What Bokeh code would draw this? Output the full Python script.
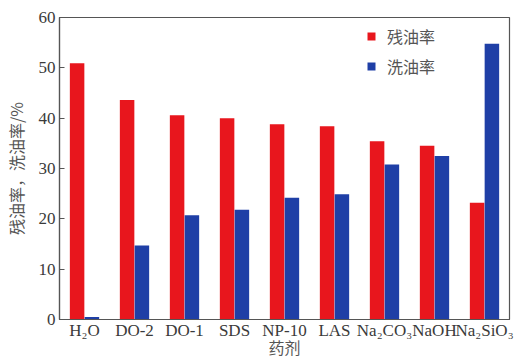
from bokeh.plotting import figure
from bokeh.models import ColumnDataSource, Legend, LegendItem, FactorRange, Range1d, FixedTicker
from bokeh.transform import dodge
from bokeh.embed import file_html
from bokeh.resources import INLINE

# Agents tested and measured oil ratios (%)
agents = ["H₂O", "DO-2", "DO-1", "SDS", "NP-10", "LAS", "Na₂CO₃", "NaOH", "Na₂SiO₃"]
residual_oil = [50.9, 43.6, 40.6, 40.0, 38.8, 38.4, 35.4, 34.5, 23.2]
washed_oil = [0.5, 14.7, 20.7, 21.8, 24.2, 24.9, 30.8, 32.5, 54.8]
y_ticks = [0, 10, 20, 30, 40, 50, 60]

RED = "#e8161d"
BLUE = "#1f3fa6"
TXT = "#3a3a3a"
SERIF = "Liberation Serif"
CJK = "Noto Sans CJK SC"

src = ColumnDataSource(dict(agent=agents, res=residual_oil, wash=washed_oil))

p = figure(width=518, height=361, output_backend="svg", toolbar_location=None,
           x_range=FactorRange(factors=agents, range_padding=0),
           y_range=Range1d(0, 60))
p.min_border_left = 57
p.min_border_right = 9
p.min_border_top = 17
p.min_border_bottom = 0
p.background_fill_color = "white"
p.border_fill_color = "white"
p.outline_line_color = "#555555"
p.outline_line_width = 1.2
p.xgrid.visible = False
p.ygrid.visible = False

r_res = p.vbar(x=dodge("agent", -0.148, range=p.x_range), top="res", width=0.29,
               source=src, fill_color=RED, line_color=None)
r_wash = p.vbar(x=dodge("agent", 0.148, range=p.x_range), top="wash", width=0.29,
                source=src, fill_color=BLUE, line_color=None)

# axes
p.yaxis.ticker = FixedTicker(ticks=y_ticks)
p.yaxis.minor_tick_line_color = None
p.yaxis.major_tick_in = 5
p.yaxis.major_tick_out = 0
p.yaxis.major_tick_line_color = "#555555"
p.yaxis.major_label_standoff = 4
p.yaxis.axis_label = "残油率，洗油率/%"
p.yaxis.axis_label_standoff = 8

p.xaxis.major_tick_line_color = None
p.xaxis.minor_tick_line_color = None
p.xaxis.major_tick_out = 0
p.xaxis.major_tick_in = 0
p.xaxis.major_label_standoff = 1
p.xaxis.axis_label = "药剂"
p.xaxis.axis_label_standoff = -8

for ax in (p.xaxis[0], p.yaxis[0]):
    ax.axis_line_color = "#555555"
    ax.axis_line_width = 1.2
    ax.major_label_text_font = SERIF
    ax.major_label_text_font_size = "17px"
    ax.major_label_text_color = TXT
    ax.axis_label_text_font = CJK
    ax.axis_label_text_font_size = "16px"
    ax.axis_label_text_font_style = "normal"
    ax.axis_label_text_color = "#555555"

legend = Legend(items=[LegendItem(label="残油率", renderers=[r_res]),
                       LegendItem(label="洗油率", renderers=[r_wash])],
                location=(307, 241), orientation="vertical")
legend.margin = 0
legend.padding = 0
legend.spacing = 6
legend.glyph_width = 10
legend.glyph_height = 10
legend.label_height = 20
legend.label_standoff = 11
legend.label_text_font = CJK
legend.label_text_font_size = "16px"
legend.label_text_color = "#555555"
legend.background_fill_alpha = 0
legend.border_line_color = None
p.add_layout(legend)

open("out.html", "w").write(file_html(p, INLINE))
